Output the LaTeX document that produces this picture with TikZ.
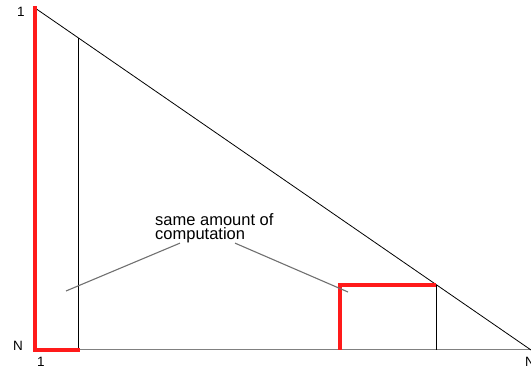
\documentclass[tikz,border=0pt]{standalone}
\usepackage{fontspec}
\setmainfont{Liberation Sans}
\usepackage{xcolor}
\definecolor{cost}{HTML}{FF1A1A}
\definecolor{axisgray}{HTML}{808080}
\definecolor{pointgray}{HTML}{707070}

\begin{document}
\begin{tikzpicture}[x=1pt, y=1pt,
  every node/.style={inner sep=0pt},
  tick/.style={font=\fontsize{13.5}{13.5}\selectfont},
  costline/.style={cost, line width=4pt},
  pointer/.style={pointgray, line width=1.1pt}]
\useasboundingbox (0,0) rectangle (531,370);

% === Triangle corners ===
\coordinate (top) at (35, 362);
\coordinate (origin) at (35, 20);
\coordinate (right) at (531, 20);

% Axis labels
\node[tick] (lone) at (21, 358) {1};
\node[tick] (lnl) at (18, 24) {N};
\node[tick] (bone) at (41, 8) {1};
\node[tick] (bnr) at (530, 8) {N};

% Bottom and hypotenuse
\draw[axisgray, line width=1pt] (origin) -- (right);
\draw[black, line width=0.8pt] (top) -- (right);

% First column: vertical line up to the hypotenuse
\coordinate (colbot) at (78, 20);
\coordinate (coltop) at (78, 332.4);
\draw[black, line width=0.9pt] (colbot) -- (coltop);

% Last block: right edge up to the hypotenuse
\coordinate (blkbl) at (340, 20);
\coordinate (blktl) at (340, 85);
\coordinate (blktr) at (436, 85);
\coordinate (blkbr) at (436, 20);
\draw[black, line width=0.9pt] (blkbr) -- (blktr);

% Red cost outlines
\draw[costline, line cap=rect] (top) -- (origin) -- (colbot);
\draw[costline, line join=miter] (blkbl) -- (blktl) -- (blktr);

% === Note with pointers ===
\node[anchor=base west, align=left, font=\fontsize{16.5}{14}\selectfont]
  (note) at (155, 130.5) {same amount of\\computation};
\coordinate (lefttip) at (66, 79);
\coordinate (righttip) at (348, 78);
\draw[pointer] ([xshift=25pt]note.south west) -- (lefttip);
\draw[pointer] ([xshift=80pt]note.south west) -- (righttip);
\end{tikzpicture}
\end{document}
